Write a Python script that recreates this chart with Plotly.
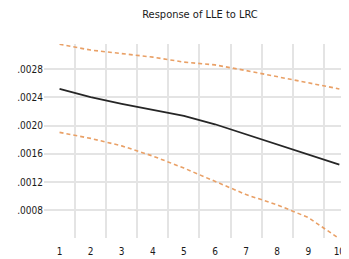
import plotly.graph_objects as go

periods = [1, 2, 3, 4, 5, 6, 7, 8, 9, 10]
response = [0.00252, 0.002405, 0.00231, 0.00223, 0.00214, 0.00202, 0.00188, 0.00174, 0.00160, 0.00145]
upper = [0.003153, 0.00307, 0.00302, 0.00297, 0.00290, 0.00286, 0.00278, 0.00269, 0.00260, 0.00252]
lower = [0.001905, 0.00182, 0.001714, 0.00157, 0.00140, 0.001214, 0.001024, 0.00088, 0.00070, 0.00040]
ytickvals = [0.0008, 0.0012, 0.0016, 0.0020, 0.0024, 0.0028]
yticktext = [".0008", ".0012", ".0016", ".0020", ".0024", ".0028"]
title = "Response of LLE to LRC"

font_family = "DejaVu Sans Condensed, Liberation Sans Narrow, sans-serif"
orange = "#e9a066"

# page has an 8px body margin, so the figure is sized/offset to compensate
W, H = 341, 251

fig = go.Figure()
fig.add_trace(go.Scatter(x=periods, y=upper, mode="lines",
                         line=dict(color=orange, width=1.6, dash="4px,3px"),
                         showlegend=False, hoverinfo="skip"))
fig.add_trace(go.Scatter(x=periods, y=lower, mode="lines",
                         line=dict(color=orange, width=1.6, dash="4px,3px"),
                         showlegend=False, hoverinfo="skip"))
fig.add_trace(go.Scatter(x=periods, y=response, mode="lines",
                         line=dict(color="#262626", width=1.8),
                         showlegend=False))

fig.update_layout(
    width=W, height=H,
    margin=dict(l=36, r=0, t=36, b=21),
    paper_bgcolor="white", plot_bgcolor="white",
    title=dict(text=title, x=192/W, xanchor="center", y=1-6/H, yanchor="middle",
               font=dict(family=font_family, size=11, color="#1a1a1a")),
    font=dict(family=font_family, size=10, color="#1a1a1a"),
)
fig.update_xaxes(
    range=[0.5, 10.31], tickvals=periods, ticktext=[str(p) for p in periods],
    showgrid=False, zeroline=False, showline=False, ticks="", automargin=False,
    minor=dict(tick0=0.5, dtick=1, showgrid=True, gridcolor="#e4e4e4", gridwidth=1.5, ticks=""),
    tickfont=dict(size=10), ticklabelstandoff=6,
)
fig.update_yaxes(
    range=[0.00041, 0.003156], tickvals=ytickvals, ticktext=yticktext,
    showgrid=True, gridcolor="#e4e4e4", gridwidth=1.5, zeroline=False, showline=False,
    ticks="", tickfont=dict(size=10), automargin=False,
)

fig.write_html("out.html")
